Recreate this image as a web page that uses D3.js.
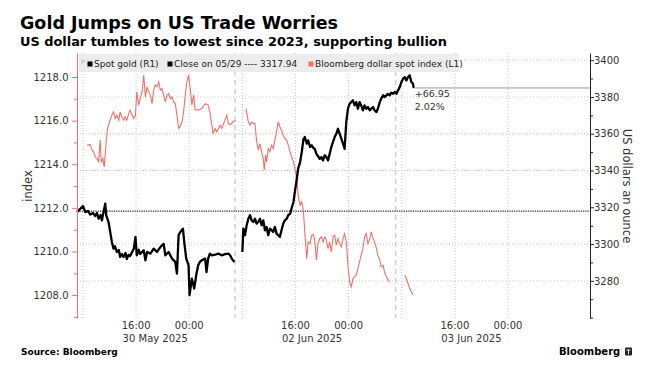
<!DOCTYPE html>
<html><head><meta charset="utf-8">
<script src="https://cdn.jsdelivr.net/npm/d3@7"></script>
<style>body{margin:0;background:#fff}svg{display:block;font-family:"DejaVu Sans",Verdana,sans-serif}</style>
</head><body><svg id="c" width="657" height="366"></svg>
<script>
// ---- data (hours since 30 May 08:00, gaps removed) ----
const goldHours = [-0.9,0,0.35,0.75,1.1,1.5,1.85,2.1,2.35,2.65,2.85,3.1,3.35,3.5,3.85,4.1,4.35,4.6,4.8,5.1,5.4,5.6,5.85,6.1,6.4,6.6,6.85,7.1,7.4,7.65,7.9,8.1,8.4,8.6,9.15,9.4,9.65,10.15,10.65,11.15,11.65,12.15,12.4,12.9,13.4,13.9,14.15,14.4,14.65,15.05,15.25,15.55,15.9,16.05,16.4,16.75,17.05,17.35,17.6,17.9,18.4,18.6,18.85,19.1,19.4,19.9,20.4,20.9,21.4,21.9,22.15,22.4,22.8,23.4,24.0,24.15,24.4,24.65,24.9,25.15,25.4,25.65,25.9,26.15,26.4,26.65,26.9,27.15,27.4,27.65,27.9,28.15,28.4,28.65,28.9,29.15,29.4,29.65,29.9,30.15,30.4,30.7,30.9,31.2,31.4,31.7,31.9,32.2,32.4,32.7,32.95,33.2,33.4,33.7,33.9,34.2,34.45,34.7,34.9,35.15,35.65,35.9,36.15,36.4,36.65,36.9,37.15,37.4,37.65,37.9,38.15,38.4,38.65,38.9,39.15,39.4,39.65,39.9,40.15,40.4,40.65,40.9,41.15,41.4,41.65,41.9,42.15,42.4,42.65,42.9,43.2,43.4,43.7,43.9,44.2,44.4,44.7,44.9,45.2,45.4,45.7,45.9,46.2,46.4,46.7,46.95,47.2,47.7,47.95,48.2,48.45,48.7,48.95,49.2,49.45,49.7,49.8];
const goldValues = [3317.4,3320.7,3317.4,3318.0,3316.0,3316.9,3315.3,3316.9,3313.8,3315.8,3312.9,3317.4,3322.0,3315.7,3312.0,3306.6,3301.1,3297.5,3298.9,3295.7,3296.8,3293.0,3294.6,3293.0,3295.2,3291.9,3294.1,3293.5,3295.7,3297.5,3303.9,3293.9,3296.9,3294.6,3296.6,3291.2,3295.7,3294.8,3297.5,3295.7,3298.4,3300.2,3293.9,3295.7,3292.1,3290.3,3283.9,3304.8,3306.6,3308.4,3301.1,3292.1,3288.5,3272.2,3281.2,3275.8,3283.0,3288.5,3290.3,3291.2,3292.1,3284.8,3292.1,3294.8,3293.9,3294.2,3294.8,3293.9,3294.5,3294.8,3293.9,3292.1,3290.3,null,3295.7,3308.4,3304.8,3310.2,3313.8,3315.7,3312.9,3312.0,3313.8,3311.1,3312.0,3313.8,3310.2,3312.9,3307.5,3309.3,3304.8,3308.4,3307.5,3306.6,3309.3,3305.7,3304.8,3303.9,3307.5,3311.1,3312.9,3313.8,3315.7,3316.5,3319.2,3322.9,3328.3,3335.5,3341.0,3344.6,3350.1,3357.0,3358.2,3354.6,3356.4,3352.8,3353.7,3352.2,3351.8,3349.1,3346.4,3347.3,3345.5,3348.3,3347.3,3345.5,3349.1,3352.8,3355.5,3358.2,3360.0,3362.7,3360.0,3357.3,3354.6,3351.8,3366.4,3373.6,3376.3,3377.2,3378.2,3375.4,3377.2,3373.6,3377.2,3375.4,3372.7,3375.4,3373.6,3374.5,3372.7,3373.6,3374.5,3372.7,3371.8,3373.6,3377.2,3379.0,3380.9,3379.9,3380.9,3381.7,3380.9,3382.3,3381.7,3382.7,3381.7,3385.4,3388.1,3389.9,3390.8,3389.0,3390.8,3391.7,3388.1,3387.2,3384.89];
const dxyHours = [0.6,1.1,1.35,1.6,1.85,2.1,2.35,2.6,2.75,3.0,3.2,3.5,3.7,4.0,4.35,4.6,4.85,5.1,5.4,5.6,5.85,6.1,6.35,6.6,6.9,7.1,7.4,7.65,7.9,8.1,8.4,8.6,8.9,9.15,9.4,9.65,9.9,10.15,10.4,10.65,10.9,11.15,11.4,11.65,11.9,12.15,12.4,12.65,12.9,13.15,13.4,13.65,13.9,14.15,14.4,14.65,14.9,15.15,15.4,15.65,15.9,16.15,16.4,16.65,16.9,17.35,17.9,18.4,18.85,19.1,19.4,19.6,19.9,20.15,20.65,20.9,21.65,21.9,22.15,22.65,22.95,23.7,24.55,24.9,25.15,25.4,25.65,25.9,26.15,26.4,26.65,26.9,27.15,27.3,27.5,27.65,27.9,28.15,28.4,28.65,28.9,29.15,29.4,29.65,29.9,30.15,30.4,30.7,30.9,31.2,31.4,31.7,31.9,32.2,32.4,32.7,32.95,33.2,33.4,33.7,33.9,34.2,34.45,34.7,34.9,35.15,35.4,35.65,35.9,36.15,36.4,36.65,36.9,37.15,37.4,37.65,37.9,38.15,38.4,38.65,38.9,39.15,39.4,39.65,39.9,40.15,40.4,40.65,40.9,41.15,41.4,41.65,41.9,42.15,42.4,42.65,42.9,43.2,43.4,43.7,43.9,44.2,44.4,44.7,44.9,45.2,45.4,45.7,46.1,47.3,48.45,48.7,48.95,49.2,49.45,49.7];
const dxyValues = [1214.88,1214.90,1214.65,1214.57,1214.34,1214.26,1214.11,1215.11,1214.11,1214.26,1213.88,1215.03,1215.64,1215.94,1216.25,1216.40,1216.10,1216.25,1216.02,1216.40,1216.17,1216.02,1216.17,1216.02,1216.33,1216.48,1216.25,1216.10,1216.25,1217.32,1216.71,1217.01,1217.32,1218.09,1217.09,1217.55,1217.32,1217.17,1216.78,1217.40,1217.63,1217.55,1217.78,1217.40,1217.47,1217.17,1216.86,1217.17,1217.24,1217.01,1217.09,1216.86,1216.78,1216.25,1215.64,1215.72,1215.94,1216.40,1217.17,1217.78,1218.09,1217.47,1216.71,1217.17,1216.50,1216.48,1216.55,1216.78,1216.71,1216.40,1215.79,1215.41,1215.64,1215.49,1215.79,1215.64,1216.25,1215.87,1215.81,1215.96,1216.01,null,1216.55,1215.94,1215.79,1215.94,1215.87,1215.87,1215.03,1214.65,1214.95,1214.57,1214.26,1213.73,1214.42,1214.11,1214.72,1214.57,1214.88,1214.72,1215.11,1215.49,1215.94,1215.72,1215.56,1215.33,1215.18,1215.11,1214.88,1214.57,1214.34,1214.11,1213.80,1213.34,1212.58,1212.12,1212.28,1211.82,1210.90,1209.67,1210.44,1210.36,1210.75,1210.78,1210.52,1209.60,1210.36,1210.59,1210.67,1210.44,1210.67,1210.52,1210.13,1210.44,1209.98,1210.67,1210.75,1210.29,1210.59,1210.36,1210.21,1210.59,1210.82,1210.44,1209.37,1208.61,1208.38,1208.76,1208.84,1208.91,1209.22,1209.52,1209.83,1210.13,1210.67,1210.82,1210.36,1210.59,1210.90,1210.59,1210.44,1210.13,1209.83,1209.60,1209.29,1209.37,1209.06,1208.84,1208.61,null,1208.91,1208.76,1208.53,1208.30,1208.15,1208.00];
const prevClose = 3317.94;
const leftTicks = [1208,1210,1212,1214,1216,1218];
const leftMinor = [1207,1209,1211,1213,1215,1217];
const rightTicks = [3280,3300,3320,3340,3360,3380,3400];
const rightMinor = [3260,3270,3290,3310,3330,3350,3370,3390];
const gridValues = [3280,3300,3340,3360,3380,3400];
const timeTicks = [8,16,32,40,56,64];
const timeLabels = ["16:00","00:00","16:00","00:00","16:00","00:00"];
const dateTicks = [8,32,56];
const dateLabels = ["30 May 2025","02 Jun 2025","03 Jun 2025"];
const gridHours = [0,8,16,24,32,40,48,56,64];
const breakHours = [22.9,47.1];

// ---- layout ----
const svg = d3.select("#c");
const L = 77, R = 590, T = 53, B = 318;
const RED = "#f2706c", INK = "#222", LBL = "#333";
const x = d3.scaleLinear().domain([-0.9, 76.35]).range([L, R]);
const yL = d3.scaleLinear().domain([1206.95, 1219.1]).range([B, T]);
const yR = d3.scaleLinear().domain([3259.8, 3403.9]).range([B, T]);

svg.append("rect").attr("width",657).attr("height",366).attr("fill","#fff");

// title
svg.append("text").attr("x",20).attr("y",29).attr("font-size",17.5).attr("font-weight","bold").attr("fill","#000").text("Gold Jumps on US Trade Worries");
svg.append("text").attr("x",20).attr("y",45.5).attr("font-size",12.9).attr("font-weight","bold").attr("fill","#000").text("US dollar tumbles to lowest since 2023, supporting bullion");

// grid
const g = svg.append("g");
g.selectAll(".hg").data(gridValues).join("line")
  .attr("x1",L).attr("x2",R).attr("y1",d=>yR(d)).attr("y2",d=>yR(d))
  .attr("stroke","#c4c4c4").attr("stroke-dasharray","1,2");
g.selectAll(".vg").data(gridHours).join("line")
  .attr("x1",d=>x(d)).attr("x2",d=>x(d)).attr("y1",T).attr("y2",B)
  .attr("stroke","#c4c4c4").attr("stroke-dasharray","1,2");
g.selectAll(".bk").data(breakHours).join("line")
  .attr("x1",d=>x(d)).attr("x2",d=>x(d)).attr("y1",T).attr("y2",B)
  .attr("stroke","#bbb").attr("stroke-dasharray","5,4");

// previous close line
svg.append("line").attr("x1",L).attr("x2",R).attr("y1",yR(prevClose)).attr("y2",yR(prevClose))
  .attr("stroke","#333").attr("stroke-width",1.3).attr("stroke-dasharray","1.3,1");

// series
const dxy = dxyHours.map((h,i)=>({h, v:dxyValues[i]}));
const gold = goldHours.map((h,i)=>({h, v:goldValues[i]}));
svg.append("path").datum(dxy)
  .attr("d", d3.line().defined(d=>d.v!=null).x(d=>x(d.h)).y(d=>yL(d.v)))
  .attr("fill","none").attr("stroke",RED).attr("stroke-width",1.1);
svg.append("path").datum(gold)
  .attr("d", d3.line().defined(d=>d.v!=null).x(d=>x(d.h)).y(d=>yR(d.v)))
  .attr("fill","none").attr("stroke","#000").attr("stroke-width",2.3).attr("stroke-linejoin","round");

// last value marker line and annotation
const last = gold[gold.length-1];
svg.append("line").attr("x1",x(last.h)).attr("x2",R).attr("y1",yR(last.v)).attr("y2",yR(last.v))
  .attr("stroke","#999").attr("stroke-width",1);
const chg = last.v - prevClose;
svg.append("text").attr("x",x(last.h)+1).attr("y",97).attr("font-size",9.5).attr("fill",LBL).text("+"+chg.toFixed(2));
svg.append("text").attr("x",x(last.h)+1).attr("y",110).attr("font-size",9.5).attr("fill",LBL).text((chg/prevClose*100).toFixed(2)+"%");

// left axis
const la = svg.append("g").attr("transform",`translate(${L},0)`)
  .call(d3.axisLeft(yL).tickValues(leftTicks).tickFormat(d3.format(".1f")).tickSize(5).tickSizeOuter(0));
la.select(".domain").attr("stroke",RED);
la.selectAll(".tick line").attr("stroke",RED);
la.selectAll(".tick text").attr("fill",LBL).attr("font-size",10).attr("font-family","DejaVu Sans").attr("dx",-0.5);
const lm = svg.append("g").attr("transform",`translate(${L},0)`)
  .call(d3.axisLeft(yL).tickValues(leftMinor).tickFormat("").tickSize(3).tickSizeOuter(0));
lm.select(".domain").remove();
lm.selectAll(".tick line").attr("stroke",RED);

// right axis
const ra = svg.append("g").attr("transform",`translate(${R},0)`)
  .call(d3.axisRight(yR).tickValues(rightTicks).tickFormat(d3.format("d")).tickSize(4).tickSizeOuter(0));
ra.select(".domain").attr("stroke","#222");
ra.selectAll(".tick line").attr("stroke","#222");
ra.selectAll(".tick text").attr("fill",LBL).attr("font-size",10).attr("font-family","DejaVu Sans").attr("x",4);
const rm = svg.append("g").attr("transform",`translate(${R},0)`)
  .call(d3.axisRight(yR).tickValues(rightMinor).tickFormat("").tickSize(3).tickSizeOuter(0));
rm.select(".domain").remove();
rm.selectAll(".tick line").attr("stroke","#222");

// x labels
svg.selectAll(".tl").data(timeTicks).join("text")
  .attr("x",d=>x(d)).attr("y",329).attr("text-anchor","middle").attr("font-size",10).attr("fill",LBL)
  .text((d,i)=>timeLabels[i]);
svg.selectAll(".dl").data(dateTicks).join("text")
  .attr("x",d=>x(d)-13.5).attr("y",342).attr("font-size",10).attr("fill",LBL)
  .text((d,i)=>dateLabels[i]);

// axis titles
svg.append("text").attr("transform","translate(32,186) rotate(-90)").attr("text-anchor","middle")
  .attr("font-size",11.5).attr("fill",LBL).text("index");
svg.append("text").attr("transform","translate(623,186) rotate(90)").attr("text-anchor","middle")
  .attr("font-size",11.5).attr("fill",LBL).text("US dollars an ounce");

// legend
const lg = svg.append("g");
lg.append("rect").attr("x",79).attr("y",54).attr("width",380).attr("height",18).attr("fill","#ececec");
lg.append("text").attr("x",81).attr("y",64).attr("font-size",6).attr("fill","#aaa").text("P");
lg.append("rect").attr("x",87.5).attr("y",61.5).attr("width",5).attr("height",5).attr("fill","#000");
lg.append("text").attr("x",94).attr("y",67).attr("font-size",9).attr("fill",INK).text("Spot gold (R1)");
lg.append("rect").attr("x",167.5).attr("y",61.5).attr("width",5).attr("height",5).attr("fill","#000");
lg.append("text").attr("x",174).attr("y",67).attr("font-size",9).attr("fill",INK).text("Close on 05/29 ---- "+prevClose.toFixed(2));
lg.append("rect").attr("x",308.5).attr("y",61.5).attr("width",5).attr("height",5).attr("fill",RED);
lg.append("text").attr("x",315).attr("y",67).attr("font-size",9).attr("fill",INK).text("Bloomberg dollar spot index (L1)");

// footer
svg.append("text").attr("x",21).attr("y",355).attr("font-size",9).attr("font-weight","bold").attr("fill","#000").text("Source: Bloomberg");
svg.append("text").attr("x",559).attr("y",355).attr("font-size",10).attr("font-weight","bold").attr("fill","#000").text("Bloomberg");
svg.append("rect").attr("x",625).attr("y",347.5).attr("width",7).attr("height",8).attr("rx",1).attr("fill","#222");
svg.append("path").attr("d","M626.5,350 H630.5 M628.5,349.5 V354.5").attr("stroke","#fff").attr("stroke-width",0.9);
</script></body></html>
